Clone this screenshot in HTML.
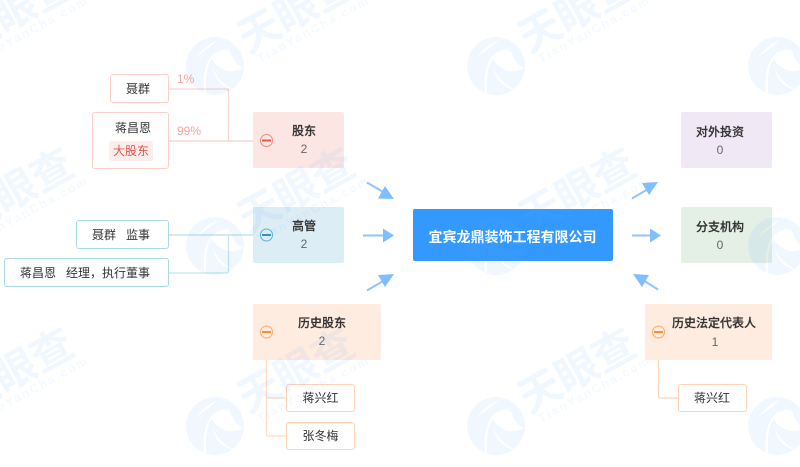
<!DOCTYPE html>
<html lang="zh">
<head>
<meta charset="utf-8">
<title>股权结构图</title>
<style>
html,body{margin:0;padding:0;background:#fff}
#p{position:relative;width:800px;height:467px;overflow:hidden;background:#fff;font-family:"Liberation Sans","Noto Sans CJK SC",sans-serif;color:#333}
svg{position:absolute;left:0;top:0}
.b{position:absolute;box-sizing:border-box;border-radius:2px;text-align:center;font-size:12px;line-height:18px}
.h{font-weight:500;color:#333;-webkit-text-stroke:.2px #333}
.n{color:#666;line-height:18px}
.leaf{position:absolute;box-sizing:border-box;background:#fff;border-radius:3px;border:1px solid;font-size:12px;text-align:center;color:#333;line-height:28px;white-space:pre}
.pct{position:absolute;font-size:12px;color:#f5a5a0;line-height:14px}
.big{font-size:42px;font-weight:700}
.sm{font-size:12px;font-weight:700;letter-spacing:2.1px;fill:rgba(90,170,255,.07)}
</style>
</head>
<body>
<div id="p">
<svg width="800" height="467" viewBox="0 0 800 467">
<g fill="none" stroke-width="1">
<path d="M169,89H226.5Q228.5,89 228.5,91V141" stroke="#fbd5d2" stroke-width="1.2"/>
<path d="M169,141H253" stroke="#fbd5d2" stroke-width="1.5"/>
<path d="M169,235H253" stroke="#c6e4ef" stroke-width="1.5"/>
<path d="M169,273H226.5Q228.5,273 228.5,271V235" stroke="#c6e4ef" stroke-width="1.2"/>
<path d="M266.5,360V396Q266.5,398 268.5,398H286M266.5,396V434Q266.5,436 268.5,436H286" stroke="#ffdcc2" stroke-width="1.2"/>
<path d="M658.5,360V396Q658.5,398 660.5,398H678" stroke="#ffd5b8" stroke-width="1.2"/>
</g>
<g stroke="#8cc5ff" stroke-width="2" fill="#7fbfff">
<path d="M367,182.5L384,192.5" fill="none"/><path d="M394,199L378,198.5L385,186Z" stroke="none"/>
<path d="M363,235.5H385" fill="none"/><path d="M394,235.5L383,228.5V242.5Z" stroke="none"/>
<path d="M367,290.5L384,280.5" fill="none"/><path d="M394,274L378,275L385,287Z" stroke="none"/>
<path d="M632,198.5L649,188.5" fill="none"/><path d="M658,182L642,183L649,195Z" stroke="none"/>
<path d="M632,235.5H652" fill="none"/><path d="M661,235.5L650,228.5V242.5Z" stroke="none"/>
<path d="M658,289.5L642,279.5" fill="none"/><path d="M633,274L649,275L642,287Z" stroke="none"/>
</g>
</svg>

<div class="leaf" style="left:110px;top:74px;width:59px;height:29px;border-color:#fbcfca;padding-right:3px">聂群</div>
<div class="leaf" style="left:92px;top:112px;width:77px;height:57px;border-color:#fbcfca;line-height:18px"><div style="position:absolute;left:0;right:0;top:6px;padding-left:5px;box-sizing:border-box;">蒋昌恩</div><div style="position:absolute;left:16px;top:28px;width:44px;height:20px;line-height:20px;background:#fdeeec;color:#e4574c;border-radius:2px">大股东</div></div>
<div class="pct" style="left:177px;top:72px">1%</div>
<div class="pct" style="left:177px;top:124px">99%</div>

<div class="leaf" style="left:76px;top:220px;width:93px;height:29px;border-color:#aad9e6;padding-right:3px">聂群   监事</div>
<div class="leaf" style="left:4px;top:258px;width:165px;height:29px;border-color:#aad9e6;padding-right:3px">蒋昌恩   经理，执行董事</div>

<div class="b" style="left:253px;top:112px;width:91px;height:56px;background:#fce6e4"><div class="h" style="position:absolute;left:39px;top:10px;width:24px">股东</div><div class="n" style="position:absolute;left:39px;top:28px;width:24px">2</div></div>
<div class="b" style="left:253px;top:207px;width:91px;height:56px;background:#dcedf5"><div class="h" style="position:absolute;left:38px;top:10px;width:26px">高管</div><div class="n" style="position:absolute;left:39px;top:28px;width:24px">2</div></div>
<div class="b" style="left:253px;top:304px;width:128px;height:56px;background:#ffece0"><div class="h" style="position:absolute;left:45px;top:10px;width:48px">历史股东</div><div class="n" style="position:absolute;left:45px;top:28px;width:48px">2</div></div>
<div class="b" style="left:645px;top:304px;width:127px;height:56px;background:#ffece0"><div class="h" style="position:absolute;left:27px;top:10px;width:84px">历史法定代表人</div><div class="n" style="position:absolute;left:28px;top:29px;width:84px">1</div></div>
<div class="b" style="left:681px;top:112px;width:91px;height:56px;background:#f0e8f5"><div class="h" style="position:absolute;left:15px;top:11px;width:48px">对外投资</div><div class="n" style="position:absolute;left:15px;top:29px;width:48px">0</div></div>
<div class="b" style="left:681px;top:207px;width:91px;height:56px;background:#e4efe6"><div class="h" style="position:absolute;left:15px;top:11px;width:48px">分支机构</div><div class="n" style="position:absolute;left:15px;top:29px;width:48px">0</div></div>

<div class="b" style="left:412.5px;top:209px;width:200px;height:52px;background:#3399ff;color:#fff;font-size:14px;font-weight:700;line-height:56px">宜宾龙鼎装饰工程有限公司</div>

<div class="leaf" style="left:286px;top:384px;width:69px;height:28px;border-color:#ffd3b4;line-height:27px">蒋兴红</div>
<div class="leaf" style="left:286px;top:422px;width:69px;height:28px;border-color:#ffd3b4;line-height:27px">张冬梅</div>
<div class="leaf" style="left:678px;top:384px;width:69px;height:28px;border-color:#ffd3b4;line-height:27px;padding-right:1px">蒋兴红</div>

<svg width="800" height="467" viewBox="0 0 800 467" fill="none">
<circle cx="266.5" cy="140.5" r="6" stroke="#f08a80" stroke-width="1"/><path d="M262,140.5H271" stroke="#e4574c" stroke-width="2"/>
<circle cx="266.5" cy="235" r="6" stroke="#5cb0d4" stroke-width="1"/><path d="M262,235H271" stroke="#2b93c0" stroke-width="2"/>
<circle cx="266.5" cy="332" r="6" stroke="#ffa866" stroke-width="1"/><path d="M262,332H271" stroke="#ff8c33" stroke-width="2"/>
<circle cx="658.5" cy="332" r="6" stroke="#ffa866" stroke-width="1"/><path d="M654,332H663" stroke="#ff8c33" stroke-width="2"/>
</svg>

<svg width="800" height="467" viewBox="0 0 800 467" style="pointer-events:none">
<defs>
<mask id="lg" maskUnits="userSpaceOnUse" x="-30" y="-30" width="60" height="60">
<circle r="29" fill="#fff"/>
<g fill="#000">
<path d="M-19,-9Q-8,-22 3,-26Q-5,-19 -19,-9Z"/>
<path d="M-11,27C-13,3 -7,-11 4,-15C8,-17 12,-17 16,-17C8,-15 2,-13 -1,-10C-8,-3 -10,10 -9,27Z"/>
<path d="M-3,-8C2,-14 8,-16 15,-15C17,-8 20,-2 28,2C20,6 12,6 8,3C2,0 -2,-3 -3,-8Z"/>
<path d="M-2,2C1,12 9,19 21,25C9,22 -1,14 -2,2Z"/>
</g>
</mask>
</defs>
<g fill="rgba(90,170,255,.09)" font-family="'Liberation Sans','Noto Sans CJK SC',sans-serif">
<g transform="translate(215,66)"><circle r="29" mask="url(#lg)"/><text class="big" transform="translate(33,-12) rotate(-29)">天眼查</text><text class="sm" transform="translate(45,-3) rotate(-28.5)">TianYanCha.com</text></g>
<g transform="translate(496,66)"><circle r="29" mask="url(#lg)"/><text class="big" transform="translate(33,-12) rotate(-29)">天眼查</text><text class="sm" transform="translate(45,-3) rotate(-28.5)">TianYanCha.com</text></g>
<g transform="translate(777,66)"><circle r="29" mask="url(#lg)"/></g>
<g transform="translate(-66,66)"><text class="big" transform="translate(33,-12) rotate(-29)">天眼查</text><text class="sm" transform="translate(45,-3) rotate(-28.5)">TianYanCha.com</text></g>
<g transform="translate(215,246)"><circle r="29" mask="url(#lg)"/><text class="big" transform="translate(33,-12) rotate(-29)">天眼查</text><text class="sm" transform="translate(45,-3) rotate(-28.5)">TianYanCha.com</text></g>
<g transform="translate(496,246)"><circle r="29" mask="url(#lg)"/><text class="big" transform="translate(33,-12) rotate(-29)">天眼查</text><text class="sm" transform="translate(45,-3) rotate(-28.5)">TianYanCha.com</text></g>
<g transform="translate(777,246)"><circle r="29" mask="url(#lg)"/></g>
<g transform="translate(-66,246)"><text class="big" transform="translate(33,-12) rotate(-29)">天眼查</text><text class="sm" transform="translate(45,-3) rotate(-28.5)">TianYanCha.com</text></g>
<g transform="translate(215,426)"><circle r="29" mask="url(#lg)"/><text class="big" transform="translate(33,-12) rotate(-29)">天眼查</text><text class="sm" transform="translate(45,-3) rotate(-28.5)">TianYanCha.com</text></g>
<g transform="translate(496,426)"><circle r="29" mask="url(#lg)"/><text class="big" transform="translate(33,-12) rotate(-29)">天眼查</text><text class="sm" transform="translate(45,-3) rotate(-28.5)">TianYanCha.com</text></g>
<g transform="translate(777,426)"><circle r="29" mask="url(#lg)"/></g>
<g transform="translate(-66,426)"><text class="big" transform="translate(33,-12) rotate(-29)">天眼查</text><text class="sm" transform="translate(45,-3) rotate(-28.5)">TianYanCha.com</text></g>
</g>
</svg>
</div>
</body>
</html>
